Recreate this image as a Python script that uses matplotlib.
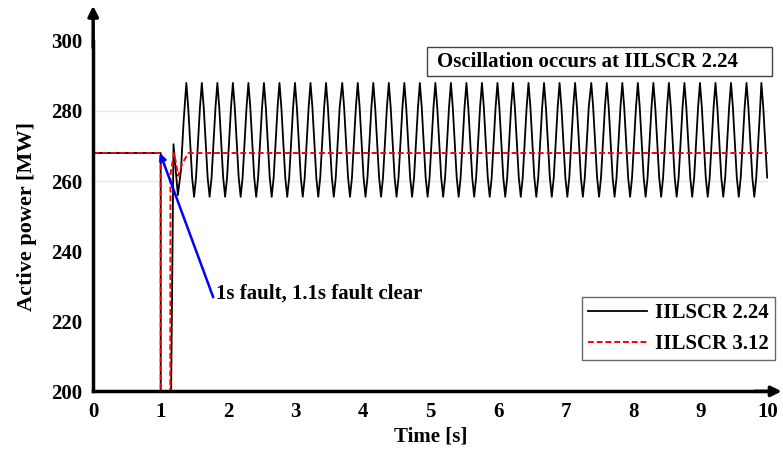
import numpy as np
from matplotlib import pyplot as plt
from matplotlib.patches import Rectangle

plt.rcParams['font.family'] = ['Liberation Serif', 'DejaVu Serif']
plt.rcParams['font.weight'] = 'bold'

# transient part, values below 200 are clipped by the axis
t_black_tr = [0.0, 1.00, 1.001, 1.13, 1.19, 1.255, 1.30, 1.34]
p_black_tr = [268.0, 268.0, 150.0, 150.0, 270.5, 256.0, 263.0, 277.0]

t_red = [0.0, 1.00, 1.001, 1.14, 1.145, 1.20, 1.26, 1.32, 1.41, 10.0]
p_red = [268.0, 268.0, 150.0, 150.0, 262.0, 268.0, 261.5, 265.0, 268.0, 268.0]

# sustained oscillation of IILSCR 2.24: peak times and one cycle's shape
t_peaks = [1.38, 1.61, 1.84, 2.07, 2.30, 2.53, 2.76, 2.99, 3.22, 3.45, 3.69,
           3.92, 4.15, 4.38, 4.61, 4.84, 5.07, 5.30, 5.53, 5.76, 5.99, 6.22,
           6.45, 6.68, 6.91, 7.14, 7.38, 7.61, 7.84, 8.07, 8.30, 8.53, 8.76,
           8.99, 9.22, 9.45, 9.68, 9.90]
cycle_dt = [0.0, 0.028, 0.057, 0.086, 0.115, 0.144, 0.173, 0.202]
cycle_p = [288.0, 281.0, 271.0, 261.0, 255.5, 261.0, 271.0, 281.0]

t_osc = []
p_osc = []
for tp in t_peaks:
    for dt, p in zip(cycle_dt, cycle_p):
        if tp + dt <= 10.0:
            t_osc.append(tp + dt)
            p_osc.append(p)

t_black = t_black_tr + t_osc
p_black = p_black_tr + p_osc

fig = plt.figure(figsize=(7.83, 4.54), dpi=100)
ax = fig.add_axes([0.119, 0.138, 0.862, 0.772])

ax.axhline(260, color='#e6e6e6', lw=1, zorder=0)
ax.axhline(280, color='#e6e6e6', lw=1, zorder=0)

ax.plot(t_black, p_black, color='black', lw=1.3, label='IILSCR 2.24')
ax.plot(t_red, p_red, color='red', lw=1.4, ls=(0, (3, 1.5)), label='IILSCR 3.12')

ax.set_xlim(0, 10)
ax.set_ylim(200, 300)
ax.set_xticks(range(0, 11))
ax.set_yticks(range(200, 301, 20))
ax.tick_params(length=0, labelsize=15, pad=8)
for lab in ax.get_xticklabels() + ax.get_yticklabels():
    lab.set_fontweight('bold')

for s in ['top', 'right']:
    ax.spines[s].set_visible(False)
ax.spines['left'].set_linewidth(2.5)
ax.spines['bottom'].set_linewidth(2.5)

# axis arrows
ax.annotate('', xy=(1.02, 0), xytext=(0.98, 0), xycoords='axes fraction',
            arrowprops=dict(arrowstyle='-|>', color='black', lw=2.5,
                            mutation_scale=15, shrinkA=0, shrinkB=0))
ax.annotate('', xy=(0, 1.1), xytext=(0, 0.98), xycoords='axes fraction',
            arrowprops=dict(arrowstyle='-|>', color='black', lw=2.5,
                            mutation_scale=15, shrinkA=0, shrinkB=0))

ax.set_xlabel('Time [s]', fontsize=15, fontweight='bold', labelpad=3)
ax.set_ylabel('Active power [MW]', fontsize=16, fontweight='bold', labelpad=10)

ax.annotate('1s fault, 1.1s fault clear', xy=(0.99, 268), xytext=(1.82, 228),
            fontsize=15, fontweight='bold', va='center', ha='left',
            arrowprops=dict(arrowstyle='-|>', color='blue', lw=1.8,
                            shrinkA=0, shrinkB=0, mutation_scale=10,
                            relpos=(-0.01, 0.2)))

# boxed note
ax.add_patch(Rectangle((0.495, 0.90), 0.511, 0.083, transform=ax.transAxes,
                       fc='white', ec='#444444', lw=1, clip_on=False, zorder=4))
ax.text(5.1, 294.1, 'Oscillation occurs at IILSCR 2.24', fontsize=15,
        fontweight='bold', va='center', ha='left', zorder=5)

leg = ax.legend(loc='lower right', bbox_to_anchor=(1.01, 0.089), fontsize=15,
                frameon=True, fancybox=False, edgecolor='#444444',
                borderaxespad=0, handlelength=2.8, handletextpad=0.4,
                borderpad=0.3, labelspacing=0.5)
leg.get_frame().set_linewidth(1)
for txt in leg.get_texts():
    txt.set_fontweight('bold')

fig.savefig('out.png', dpi=100)
